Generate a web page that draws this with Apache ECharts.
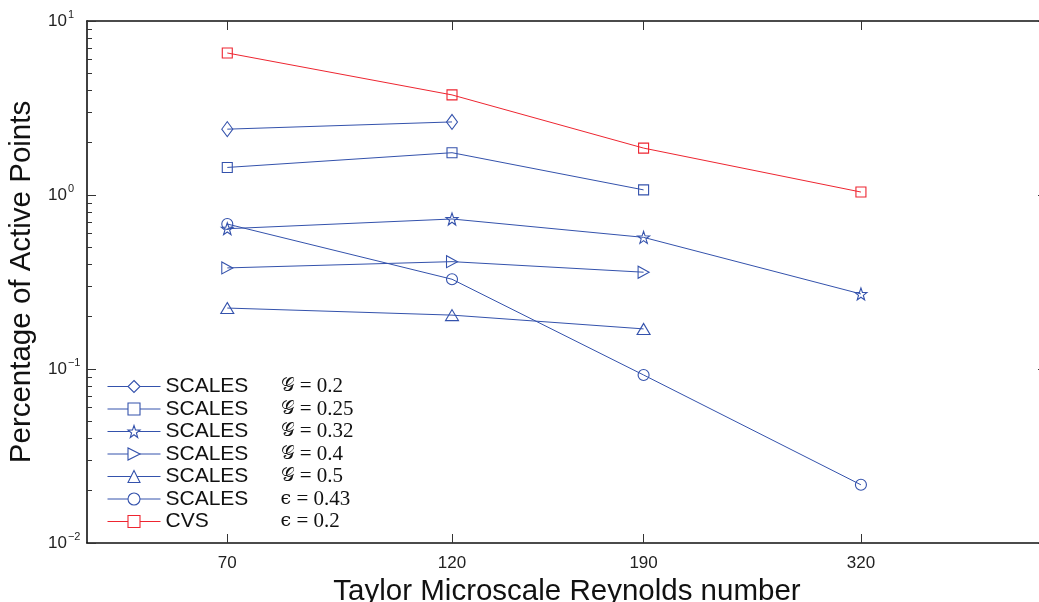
<!DOCTYPE html>
<html>
<head>
<meta charset="utf-8">
<style>
  html, body { margin: 0; padding: 0; background: #fff; }
  #chart { width: 1039px; height: 602px; }
</style>
<script src="https://cdn.jsdelivr.net/npm/echarts@6/dist/echarts.min.js"></script>
</head>
<body>
<div id="chart"></div>
<script>
// Reynolds numbers (log x axis)
var reynolds = [70, 120, 190, 320];
var yMajor = [0.01, 0.1, 1, 10];
var yMinor = [0.02, 0.03, 0.04, 0.05, 0.06, 0.07, 0.08, 0.09,
              0.2, 0.3, 0.4, 0.5, 0.6, 0.7, 0.8, 0.9,
              2, 3, 4, 5, 6, 7, 8, 9];

// percentage of active points
var scalesG02  = [2.39, 2.63];
var scalesG025 = [1.44, 1.75, 1.07];
var scalesG032 = [0.64, 0.728, 0.571, 0.270];
var scalesG04  = [0.381, 0.414, 0.360];
var scalesG05  = [0.224, 0.204, 0.170];
var scalesE043 = [0.681, 0.328, 0.0924, 0.0216];
var cvsE02     = [6.55, 3.76, 1.86, 1.04];

var BLUE = '#3452ac';
var RED = '#ee2530';
var STAR = 'path://M0,-10L2.35,-3.24L9.51,-3.09L3.8,1.24L5.88,8.09L0,4L-5.88,8.09L-3.8,1.24L-9.51,-3.09L-2.35,-3.24Z';

function pairs(vals) {
  return vals.map(function (v, i) { return [reynolds[i], v]; });
}

function makeSeries(name, vals, color, symbol, size, rotate) {
  return {
    name: name,
    type: 'line',
    data: pairs(vals),
    symbol: symbol,
    symbolSize: size,
    symbolRotate: rotate || 0,
    showAllSymbol: true,
    lineStyle: { color: color, width: 1 },
    itemStyle: { color: 'rgba(255,255,255,0)', borderColor: color, borderWidth: 1.1 },
    emphasis: { disabled: true },
    animation: false
  };
}

var legendText = {
  'G02':  ['SCALES', '𝒢', ' = 0.2'],
  'G025': ['SCALES', '𝒢', ' = 0.25'],
  'G032': ['SCALES', '𝒢', ' = 0.32'],
  'G04':  ['SCALES', '𝒢', ' = 0.4'],
  'G05':  ['SCALES', '𝒢', ' = 0.5'],
  'E043': ['SCALES', 'ϵ', ' = 0.43'],
  'CVS':  ['CVS', 'ϵ', ' = 0.2']
};

var myChart = echarts.init(document.getElementById('chart'));
var tickStyle = { color: '#333', width: 1 };
var option = {
  backgroundColor: '#fff',
  animation: false,
  // the plot box runs a little past the right edge of the picture
  grid: { left: 87, top: 21, width: 960, bottom: 59, outerBoundsMode: 'none', containLabel: false },
  legend: {
    orient: 'vertical',
    left: 107,
    top: 376,
    padding: 0,
    itemWidth: 53,
    itemHeight: 15,
    itemGap: 1.5,
    selectedMode: false,
    itemStyle: { color: '#fff', borderWidth: 1.1 },
    lineStyle: { width: 1 },
    formatter: function (name) {
      var t = legendText[name];
      return '{a|' + t[0] + '}{g|' + t[1] + '}{m|' + t[2] + '}';
    },
    textStyle: {
      rich: {
        a: { fontFamily: 'Liberation Sans', fontSize: 21, color: '#111', width: 115 },
        g: { fontFamily: 'DejaVu Serif', fontSize: 19, color: '#111' },
        m: { fontFamily: 'Liberation Serif', fontSize: 21, color: '#111' }
      }
    },
    data: ['G02', 'G025', 'G032', 'G04', 'G05', 'E043', 'CVS']
  },
  xAxis: [{
    type: 'log',
    logBase: 10,
    min: 50,
    max: 500,
    position: 'bottom',
    name: 'Taylor Microscale Reynolds number',
    nameLocation: 'middle',
    nameGap: 27,
    nameTextStyle: { fontFamily: 'Liberation Sans', fontSize: 29.5, color: '#111' },
    axisLine: { show: true, lineStyle: { color: '#111', width: 1.6 } },
    axisTick: { show: true, inside: true, length: 9, customValues: reynolds, lineStyle: tickStyle },
    axisLabel: {
      customValues: reynolds,
      margin: 12,
      fontFamily: 'Liberation Sans', fontSize: 17, color: '#222',
      formatter: function (v) { return String(Math.round(v)); }
    },
    minorTick: { show: false },
    splitLine: { show: false }
  }, {
    type: 'log',
    logBase: 10,
    min: 50,
    max: 500,
    position: 'top',
    axisLine: { show: true, lineStyle: { color: '#111', width: 1.6 } },
    axisTick: { show: true, inside: true, length: 9, customValues: reynolds, lineStyle: tickStyle },
    axisLabel: { show: false },
    splitLine: { show: false }
  }],
  yAxis: [{
    type: 'log',
    logBase: 10,
    min: 0.01,
    max: 10,
    position: 'left',
    name: 'Percentage of Active Points',
    nameLocation: 'middle',
    nameGap: 48,
    nameRotate: 90,
    nameTextStyle: { fontFamily: 'Liberation Sans', fontSize: 29.5, color: '#111' },
    axisLine: { show: true, lineStyle: { color: '#111', width: 1.6 } },
    axisTick: { show: true, inside: true, length: 9, customValues: yMajor, lineStyle: tickStyle },
    axisLabel: {
      customValues: yMajor,
      align: 'left',
      margin: 39,
      formatter: function (v) {
        var e = Math.round(Math.log(v) / Math.LN10);
        return '{b|10}{e|' + (e < 0 ? '\u2212' + (-e) : e) + '}';
      },
      rich: {
        b: { fontFamily: 'Liberation Sans', fontSize: 17, color: '#222' },
        e: { fontFamily: 'Liberation Sans', fontSize: 11, color: '#222', padding: [0, 0, 12, 1] }
      }
    },
    splitLine: { show: false }
  }, {
    type: 'log',
    logBase: 10,
    min: 0.01,
    max: 10,
    position: 'left',
    axisLine: { show: false },
    axisTick: { show: true, inside: true, length: 5, customValues: yMinor, lineStyle: tickStyle },
    axisLabel: { show: false },
    splitLine: { show: false }
  }, {
    type: 'log',
    logBase: 10,
    min: 0.01,
    max: 10,
    position: 'right',
    axisLine: { show: true, lineStyle: { color: '#111', width: 1.6 } },
    axisTick: { show: true, inside: true, length: 9, customValues: yMajor, lineStyle: tickStyle },
    axisLabel: { show: false },
    splitLine: { show: false }
  }],
  series: [
    makeSeries('G02', scalesG02, BLUE, 'diamond', [11, 15]),
    makeSeries('G025', scalesG025, BLUE, 'rect', 10),
    makeSeries('G032', scalesG032, BLUE, STAR, 12),
    makeSeries('G04', scalesG04, BLUE, 'triangle', [12, 11], -90),
    makeSeries('G05', scalesG05, BLUE, 'triangle', [13, 11]),
    makeSeries('E043', scalesE043, BLUE, 'circle', 11),
    makeSeries('CVS', cvsE02, RED, 'rect', 10)
  ]
};
myChart.setOption(option);
</script>
</body>
</html>
